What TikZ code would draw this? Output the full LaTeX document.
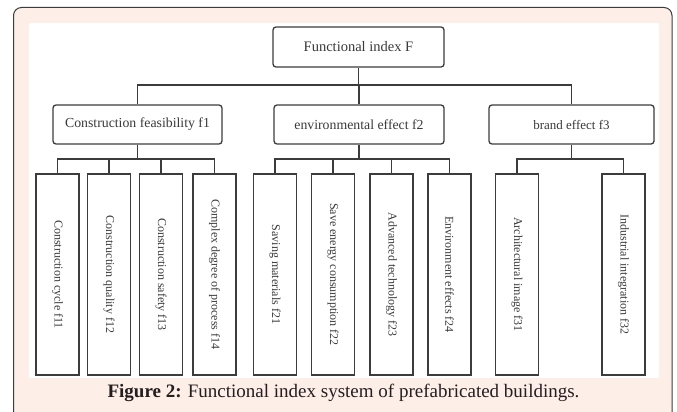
\documentclass[tikz,border=0pt]{standalone}
\usepackage{fontspec}
\setmainfont{Liberation Serif}
\definecolor{pinkbg}{HTML}{FDEEE7}
\definecolor{linec}{HTML}{3C3C3C}
\definecolor{textc}{HTML}{3A3A3A}
\definecolor{capc}{HTML}{231F20}
\tikzset{
  box/.style={draw=linec, line width=1.3pt, rounded corners=3pt, fill=white, text=textc, inner sep=0pt, align=center},
  topbox/.style={box, minimum width=171pt, minimum height=40pt, font=\fontsize{14.5}{16}\selectfont},
  midbox/.style={box, minimum height=39pt, font=\fontsize{13.8}{16}\selectfont},
  leafbox/.style={draw=linec, line width=1.3pt, fill=white, text=textc, inner sep=0pt, rotate=-90, minimum width=201pt, minimum height=43pt, font=\fontsize{12}{14}\selectfont},
  conn/.style={draw=linec, line width=1.3pt}
}
\begin{document}
\begin{tikzpicture}[x=1pt,y=-1pt]
\useasboundingbox (0,0) rectangle (677,412);
% outer frame
\fill[white] (0,0) rectangle (677,412);
\draw[draw=linec, line width=1pt, fill=pinkbg, rounded corners=8pt] (13.5,7.5) rectangle (672,430);
\fill[white] (29,23) rectangle (659,378);
% nodes
\node[topbox] (F) at (358.5,47) {Functional index F};
\node[midbox, minimum width=169pt] (f1) at (137.5,124.5) {Construction feasibility f1};
\node[midbox, minimum width=170pt] (f2) at (359,124.5) {environmental effect f2};
\node[midbox, minimum width=165pt, font=\fontsize{13}{16}\selectfont] (f3) at (571.5,124.5) {brand effect f3};
\node[leafbox] (f11) at (57.5,274.5) {Construction cycle f11};
\node[leafbox] (f12) at (109,274.5) {Construction quality f12};
\node[leafbox] (f13) at (161,274.5) {Construction safety f13};
\node[leafbox] (f14) at (214.5,274.5) {Complex degree of process f14};
\node[leafbox] (f21) at (275,274.5) {Saving materials f21};
\node[leafbox] (f22) at (333,274.5) {Save energy consumption f22};
\node[leafbox] (f23) at (391.5,274.5) {Advanced technology f23};
\node[leafbox] (f24) at (449.5,274.5) {Environment effects f24};
\node[leafbox] (f31) at (517,274.5) {Architectural image f31};
\node[leafbox] (f32) at (623.5,274.5) {Industrial integration f32};
% bus coordinates
\coordinate (b0) at (0,85);
\coordinate (b1) at (0,159);
% connectors level 1
\draw[conn] (F.south) -- (F.south |- b0);
\foreach \n in {f1,f2,f3}{
  \draw[conn] (\n.north) -- (\n.north |- b0) -- (F.south |- b0);
}
% connectors level 2
\foreach \n in {f11,f12,f13,f14}{
  \draw[conn] (\n.west) -- (\n.west |- b1) -- (f1.south |- b1) -- (f1.south);
}
\foreach \n in {f21,f22,f23,f24}{
  \draw[conn] (\n.west) -- (\n.west |- b1) -- (f2.south |- b1) -- (f2.south);
}
\foreach \n in {f31,f32}{
  \draw[conn] (\n.west) -- (\n.west |- b1) -- (f3.south |- b1) -- (f3.south);
}
% caption
\node[text=capc, font=\fontsize{19}{22}\selectfont, inner sep=0pt] (cap) at (343.5,393) {\textbf{Figure 2:} Functional index system of prefabricated buildings.};
\end{tikzpicture}
\end{document}
